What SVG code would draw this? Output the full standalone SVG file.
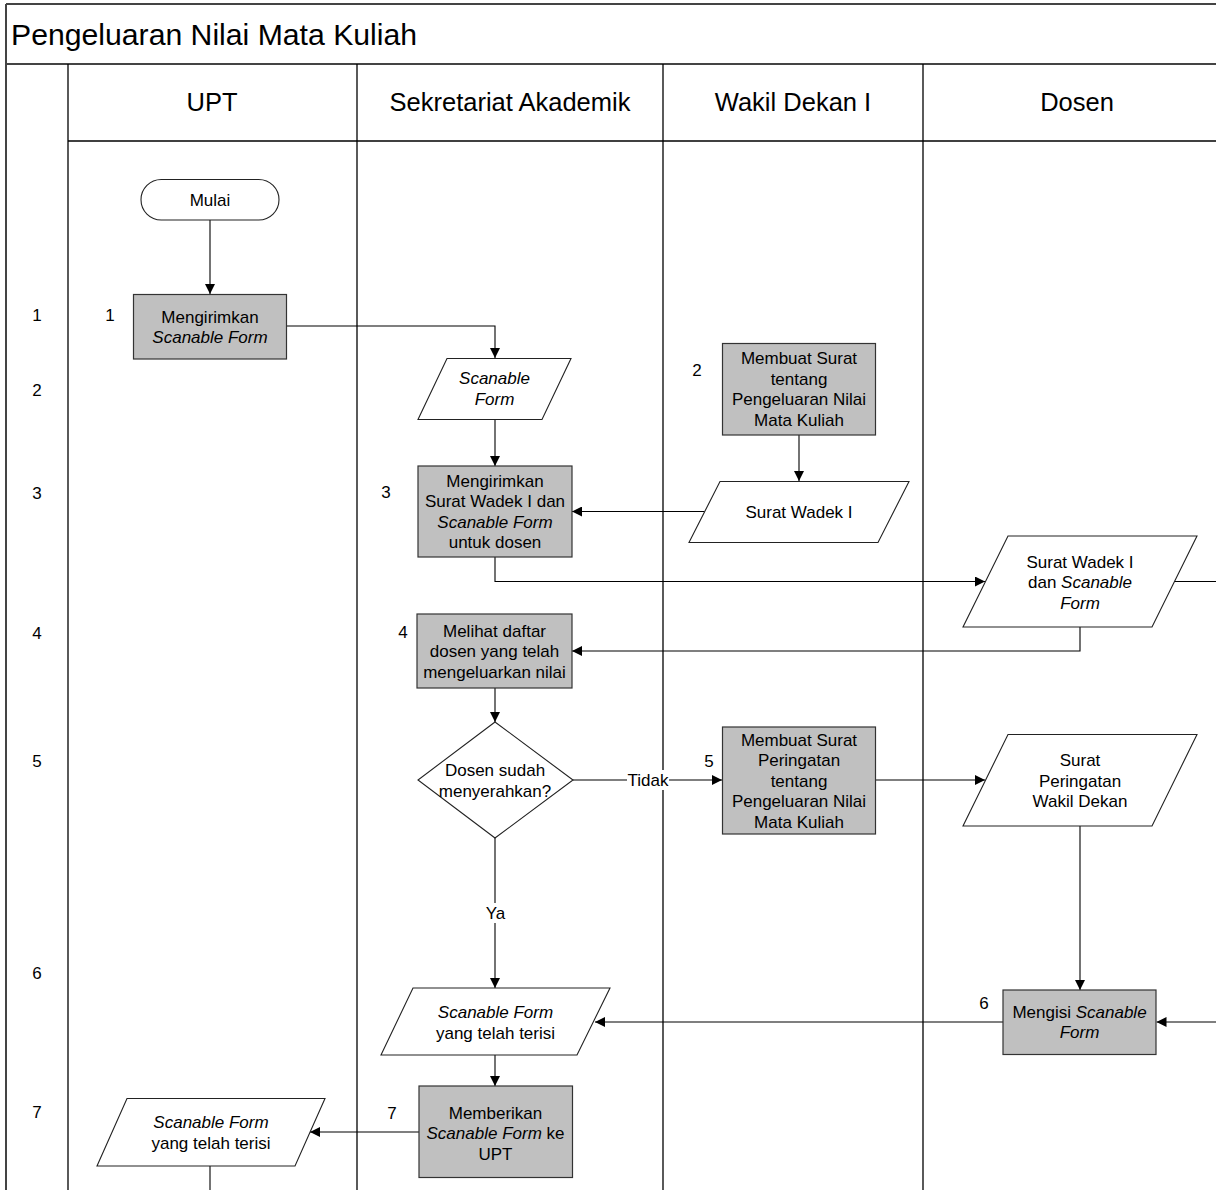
<svg xmlns="http://www.w3.org/2000/svg" width="1216" height="1190" viewBox="0 0 1216 1190">
<defs>
<marker id="ah" viewBox="0 0 10 10" refX="10" refY="5" markerWidth="10" markerHeight="10" markerUnits="userSpaceOnUse" orient="auto">
<path d="M0,0 L10,5 L0,10 Z" fill="#000"/>
</marker>
</defs>
<style>
text{font-family:"Liberation Sans",Arial,sans-serif;fill:#000}
.t{font-size:17px;text-anchor:middle}
.n{font-size:17px;text-anchor:middle}
.h{font-size:25.5px;text-anchor:middle}
.i{font-style:italic}
.proc{fill:#C0C0C0;stroke:#333;stroke-width:1.2}
.io{fill:#fff;stroke:#222;stroke-width:1.1}
.lane{stroke:#000;stroke-width:1.3;fill:none}
.frame{stroke:#444;stroke-width:2;fill:none}
.c{stroke:#000;stroke-width:1.1;fill:none}
.ca{stroke:#000;stroke-width:1.1;fill:none;marker-end:url(#ah)}
</style>
<rect width="1216" height="1190" fill="#fff"/>
<g id="pool">
<line class="frame" x1="6" y1="4" x2="1216" y2="4"/>
<line class="frame" x1="6" y1="64" x2="1216" y2="64"/>
<line class="frame" x1="6" y1="4" x2="6" y2="1190"/>
<line class="lane" x1="68" y1="64" x2="68" y2="1190"/>
<line class="lane" x1="357" y1="64" x2="357" y2="1190"/>
<line class="lane" x1="663" y1="64" x2="663" y2="1190"/>
<line class="lane" x1="923" y1="64" x2="923" y2="1190"/>
<line class="lane" x1="68" y1="141" x2="1216" y2="141" stroke="#444"/>
<text x="11" y="45" style="font-size:30.2px">Pengeluaran Nilai Mata Kuliah</text>
<text class="h" x="212" y="111">UPT</text>
<text class="h" x="510" y="111">Sekretariat Akademik</text>
<text class="h" x="793" y="111">Wakil Dekan I</text>
<text class="h" x="1077" y="111">Dosen</text>
</g>
<g id="rows">
<text class="n" x="37" y="321">1</text>
<text class="n" x="37" y="396">2</text>
<text class="n" x="37" y="499">3</text>
<text class="n" x="37" y="639">4</text>
<text class="n" x="37" y="767">5</text>
<text class="n" x="37" y="979">6</text>
<text class="n" x="37" y="1118">7</text>
</g>
<g id="connectors">
<path class="ca" d="M210,220 V294"/>
<path class="ca" d="M286.5,326 H495 V358"/>
<path class="ca" d="M495,419 V466"/>
<path class="ca" d="M799,435 V481"/>
<path class="ca" d="M704.5,511.5 H572"/>
<path class="ca" d="M495,557 V581.5 H985"/>
<path class="c" d="M1174,581.5 H1216"/>
<path class="ca" d="M1080,627 V651 H572"/>
<path class="ca" d="M495,688 V722"/>
<path class="ca" d="M573,780 H722"/>
<path class="ca" d="M875,780 H985"/>
<path class="ca" d="M1080,826 V990"/>
<path class="ca" d="M1216,1022 H1156.5"/>
<path class="ca" d="M1003,1022 H595"/>
<path class="ca" d="M495,838 V988"/>
<path class="ca" d="M495,1055 V1086"/>
<path class="ca" d="M419,1132 H310"/>
<path class="c" d="M210,1166 V1190"/>
<rect x="627" y="770" width="42" height="20" fill="#fff"/>
<text class="t" x="648" y="786">Tidak</text>
<rect x="482" y="903" width="27" height="20" fill="#fff"/>
<text class="t" x="495.5" y="919">Ya</text>
</g>
<g id="mulai">
<rect x="141" y="179.5" width="138" height="40.5" rx="20.25" class="io"/>
<text class="t" x="210" y="205.5">Mulai</text>
</g>
<g id="p1">
<rect x="133.5" y="294.5" width="153" height="64.5" class="proc"/>
<text class="n" x="110" y="321">1</text>
<text class="t" x="210" y="322.5">Mengirimkan</text>
<text class="t i" x="210" y="343">Scanable Form</text>
</g>
<g id="sf1">
<polygon points="447,358.5 571,358.5 542,419.5 418,419.5" class="io"/>
<text class="t i" x="494.5" y="384.3">Scanable</text>
<text class="t i" x="494.5" y="404.8">Form</text>
</g>
<g id="p2">
<rect x="722.5" y="343.5" width="153" height="91.5" class="proc"/>
<text class="n" x="697" y="376">2</text>
<text class="t" x="799" y="364.3">Membuat Surat</text>
<text class="t" x="799" y="384.8">tentang</text>
<text class="t" x="799" y="405.3">Pengeluaran Nilai</text>
<text class="t" x="799" y="425.8">Mata Kuliah</text>
</g>
<g id="sw">
<polygon points="720,481.5 909,481.5 878,542.5 689,542.5" class="io"/>
<text class="t" x="799" y="517.5">Surat Wadek I</text>
</g>
<g id="p3">
<rect x="418" y="466" width="154" height="91" class="proc"/>
<text class="n" x="386" y="498">3</text>
<text class="t" x="495" y="486.8">Mengirimkan</text>
<text class="t" x="495" y="507.3">Surat Wadek I dan</text>
<text class="t i" x="495" y="527.8">Scanable Form</text>
<text class="t" x="495" y="548.3">untuk dosen</text>
</g>
<g id="swsf">
<polygon points="1008,536 1197,536 1152,627 963,627" class="io"/>
<text class="t" x="1080" y="567.5">Surat Wadek I</text>
<text class="t" x="1080" y="588">dan <tspan class="i">Scanable</tspan></text>
<text class="t i" x="1080" y="608.5">Form</text>
</g>
<g id="p4">
<rect x="417" y="614" width="155" height="74" class="proc"/>
<text class="n" x="403" y="638">4</text>
<text class="t" x="494.5" y="636.5">Melihat daftar</text>
<text class="t" x="494.5" y="657">dosen yang telah</text>
<text class="t" x="494.5" y="677.5">mengeluarkan nilai</text>
</g>
<g id="decision">
<polygon points="495,722 573,780 495,838 418,780" class="io"/>
<text class="t" x="495" y="776.3">Dosen sudah</text>
<text class="t" x="495" y="796.8">menyerahkan?</text>
</g>
<g id="p5">
<rect x="722.5" y="727" width="153" height="107" class="proc"/>
<text class="n" x="709" y="767">5</text>
<text class="t" x="799" y="745.5">Membuat Surat</text>
<text class="t" x="799" y="766">Peringatan</text>
<text class="t" x="799" y="786.5">tentang</text>
<text class="t" x="799" y="807">Pengeluaran Nilai</text>
<text class="t" x="799" y="827.5">Mata Kuliah</text>
</g>
<g id="spwd">
<polygon points="1008,734.5 1197,734.5 1152,826 963,826" class="io"/>
<text class="t" x="1080" y="766">Surat</text>
<text class="t" x="1080" y="786.5">Peringatan</text>
<text class="t" x="1080" y="807">Wakil Dekan</text>
</g>
<g id="p6">
<rect x="1003" y="990" width="153" height="64.5" class="proc"/>
<text class="n" x="984" y="1009">6</text>
<text class="t" x="1079.5" y="1017.8">Mengisi <tspan class="i">Scanable</tspan></text>
<text class="t i" x="1079.5" y="1038.3">Form</text>
</g>
<g id="sf2">
<polygon points="413,988 610,988 577,1055 381,1055" class="io"/>
<text class="t i" x="495.5" y="1017.5">Scanable Form</text>
<text class="t" x="495.5" y="1038.5">yang telah terisi</text>
</g>
<g id="p7">
<rect x="419" y="1086" width="153.5" height="91.5" class="proc"/>
<text class="n" x="392" y="1119">7</text>
<text class="t" x="495.5" y="1118.5">Memberikan</text>
<text class="t" x="495.5" y="1139"><tspan class="i">Scanable Form</tspan> ke</text>
<text class="t" x="495.5" y="1159.5">UPT</text>
</g>
<g id="sf3">
<polygon points="127,1098.5 325,1098.5 295,1166 97,1166" class="io"/>
<text class="t i" x="211" y="1127.8">Scanable Form</text>
<text class="t" x="211" y="1148.5">yang telah terisi</text>
</g>
</svg>
